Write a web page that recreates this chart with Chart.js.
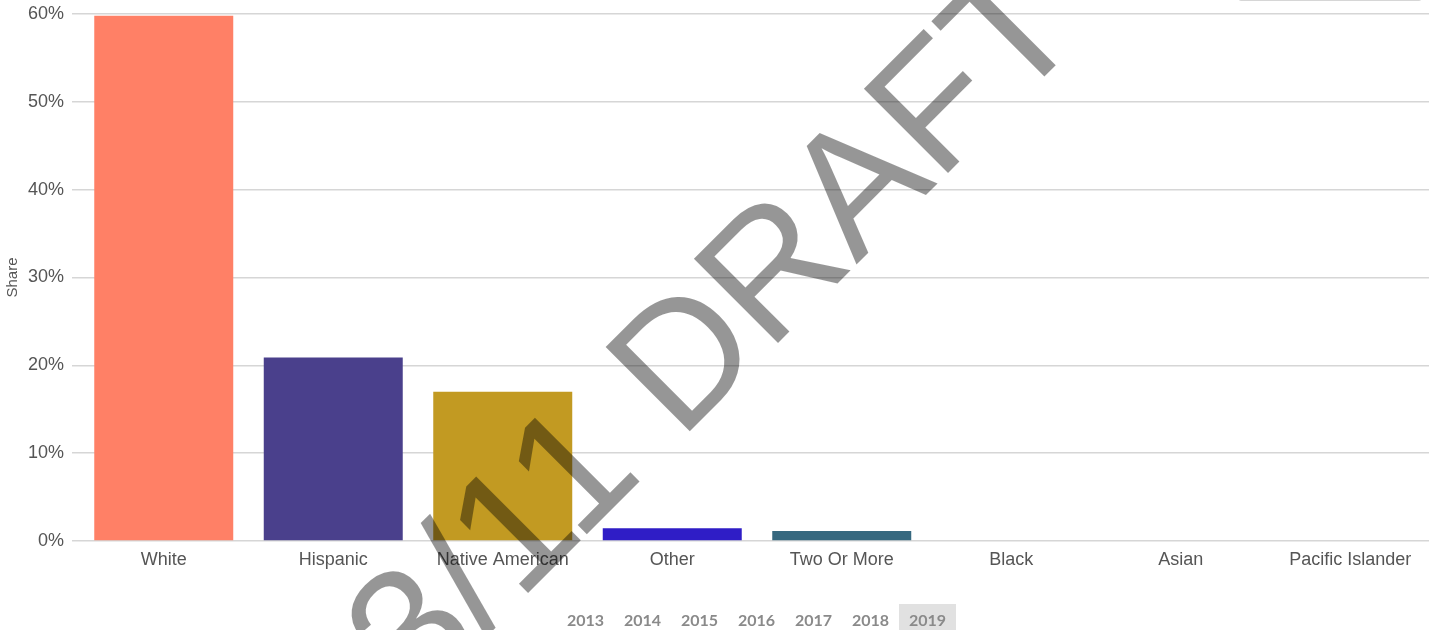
<!DOCTYPE html>
<html>
<head>
<meta charset="utf-8">
<script src="https://cdn.jsdelivr.net/npm/chart.js@4.4.1/dist/chart.umd.min.js"></script>
<style>
  html, body { margin: 0; padding: 0; background: #fff; overflow: hidden; }
  .share-page { position: relative; width: 1435px; height: 630px; }
  .view-toggle {
    position: absolute; top: -30px; left: 1238px; width: 182px; height: 29px;
    border: 1px solid #d6d6d6; border-radius: 3px; background: #fff;
  }
  .year-picker { position: absolute; left: 557px; top: 604px; display: flex; }
  .year-picker button {
    width: 57px; height: 30px; padding: 0; border: 0; background: transparent;
    font: 700 16px Lato, "Open Sans", sans-serif; color: #8a8a8a; cursor: pointer;
  }
  .year-picker button.active { background: #e1e1e1; }
</style>
</head>
<body>
<div class="share-page">
  <canvas id="shareChart"></canvas>
  <div class="view-toggle"></div>
  <div class="year-picker" id="yearPicker"></div>
</div>
<script>
const categories = ['White', 'Hispanic', 'Native American', 'Other', 'Two Or More', 'Black', 'Asian', 'Pacific Islander'];
const shareValues = [59.8, 20.9, 17.0, 1.45, 1.15, 0, 0, 0];
const barColors = ['#ff8066', '#4a408c', '#c29a22', '#2f1dc6', '#36687f', '#8c8c8c', '#8c8c8c', '#8c8c8c'];
const yearLabels = ['2013', '2014', '2015', '2016', '2017', '2018', '2019'];
const activeYear = '2019';
const stampText = '3/11 DRAFT';

(() => {
  const labelFont = '"Liberation Sans", Arial, sans-serif';

  // diagonal draft stamp over the whole plot
  const draftStamp = {
    id: 'draftStamp',
    afterDraw(chart) {
      const { ctx } = chart;
      ctx.save();
      ctx.translate(752, 369);
      ctx.rotate(-Math.PI / 4);
      ctx.font = `173px ${labelFont}`;
      ctx.fillStyle = 'rgba(0, 0, 0, 0.41)';
      ctx.textAlign = 'center';
      ctx.textBaseline = 'alphabetic';
      ctx.fillText(stampText, 0, 0);
      ctx.restore();
    },
  };

  const buildShareChart = () => {
    const ctx = document.getElementById('shareChart');
    if (!ctx) return;

    new Chart(ctx, {
      type: 'bar',
      data: {
        labels: categories,
        datasets: [
          {
            label: 'Share',
            data: shareValues,
            backgroundColor: barColors,
            borderWidth: 0,
            categoryPercentage: 0.82,
            barPercentage: 1,
          },
        ],
      },
      options: {
        responsive: true,
        maintainAspectRatio: false,
        animation: false,
        layout: { padding: { top: 14, right: 0, left: 0, bottom: 0 } },
        plugins: {
          legend: { display: false },
          tooltip: {
            callbacks: {
              label: (context) => `Share: ${context.parsed.y}%`,
            },
          },
        },
        scales: {
          x: {
            grid: { display: false },
            border: { display: false },
            ticks: {
              padding: 0,
              color: '#555',
              font: { family: labelFont, size: 18 },
              maxRotation: 0,
              autoSkip: false,
            },
            afterFit: (scale) => { scale.height = 89; },
          },
          y: {
            min: 0,
            max: 60,
            border: { display: false },
            grid: { color: '#d6d6d6', lineWidth: 1.5, tickLength: 7 },
            ticks: {
              stepSize: 10,
              padding: 8,
              color: '#555',
              font: { family: labelFont, size: 18 },
              callback: (value) => `${value}%`,
            },
            title: {
              display: true,
              text: 'Share',
              color: '#555',
              padding: { top: 4, bottom: 0 },
              font: { family: labelFont, size: 15 },
            },
            afterFit: (scale) => {
              scale.width = 79;
              // let the layout padding alone decide where the plot starts
              scale.paddingTop = 0;
              scale.paddingBottom = 0;
            },
          },
        },
      },
      plugins: [draftStamp],
    });
  };

  const buildYearPicker = () => {
    const picker = document.getElementById('yearPicker');
    if (!picker) return;
    yearLabels.forEach(year => {
      const btn = document.createElement('button');
      btn.textContent = year;
      if (year === activeYear) btn.classList.add('active');
      picker.appendChild(btn);
    });
  };

  buildShareChart();
  buildYearPicker();
})();
</script>
</body>
</html>
